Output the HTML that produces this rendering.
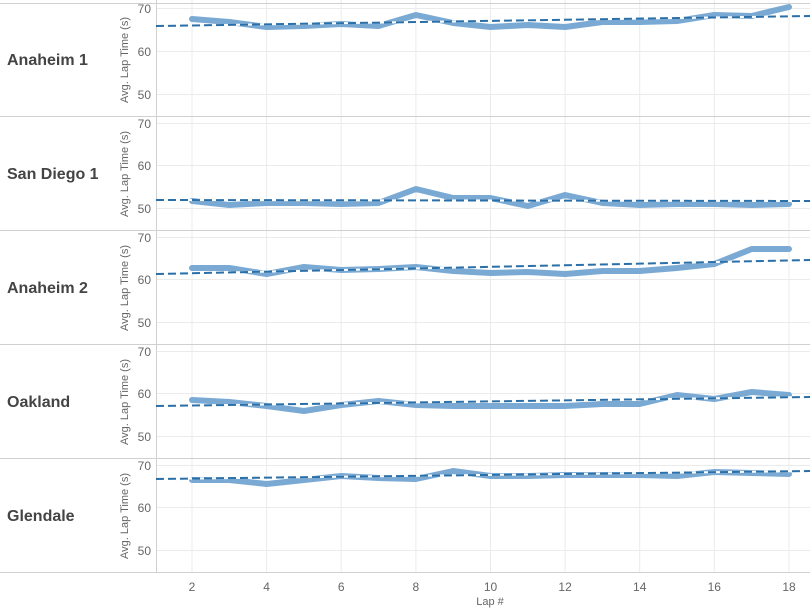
<!DOCTYPE html>
<html><head><meta charset="utf-8"><style>
html,body{margin:0;padding:0;background:#fff;}
svg{display:block;font-family:"Liberation Sans",Arial,sans-serif;}
</style></head><body>
<svg width="810" height="612" viewBox="0 0 810 612" xmlns="http://www.w3.org/2000/svg">
<g stroke="#ebebeb" stroke-width="1">
<line x1="192" y1="0" x2="192" y2="573"/><line x1="266.6" y1="0" x2="266.6" y2="573"/><line x1="341.2" y1="0" x2="341.2" y2="573"/><line x1="415.9" y1="0" x2="415.9" y2="573"/><line x1="490.5" y1="0" x2="490.5" y2="573"/><line x1="565.1" y1="0" x2="565.1" y2="573"/><line x1="639.7" y1="0" x2="639.7" y2="573"/><line x1="714.3" y1="0" x2="714.3" y2="573"/><line x1="789" y1="0" x2="789" y2="573"/>
<line x1="156" y1="8.5" x2="810" y2="8.5"/><line x1="156" y1="51.5" x2="810" y2="51.5"/><line x1="156" y1="94.5" x2="810" y2="94.5"/>
<line x1="156" y1="123.5" x2="810" y2="123.5"/><line x1="156" y1="165.5" x2="810" y2="165.5"/><line x1="156" y1="208.5" x2="810" y2="208.5"/>
<line x1="156" y1="237.5" x2="810" y2="237.5"/><line x1="156" y1="279.5" x2="810" y2="279.5"/><line x1="156" y1="322.5" x2="810" y2="322.5"/>
<line x1="156" y1="351.5" x2="810" y2="351.5"/><line x1="156" y1="393.5" x2="810" y2="393.5"/><line x1="156" y1="436.5" x2="810" y2="436.5"/>
<line x1="156" y1="465.5" x2="810" y2="465.5"/><line x1="156" y1="507.5" x2="810" y2="507.5"/><line x1="156" y1="550.5" x2="810" y2="550.5"/>
</g>
<g stroke="#d0d0d0" stroke-width="1">
<line x1="0" y1="3.5" x2="810" y2="3.5"/>
<line x1="0" y1="116.5" x2="810" y2="116.5"/>
<line x1="0" y1="230.5" x2="810" y2="230.5"/>
<line x1="0" y1="344.5" x2="810" y2="344.5"/>
<line x1="0" y1="458.5" x2="810" y2="458.5"/>
<line x1="0" y1="572.5" x2="810" y2="572.5"/>
<line x1="156.5" y1="0" x2="156.5" y2="573"/>
</g>
<g fill="none" stroke="#7aaad4" stroke-width="6" stroke-linejoin="round" stroke-linecap="round">
<polyline points="192,19 229.3,22 266.6,27 304,26 341.2,24 378.6,26 415.9,15 453.2,23 490.5,27 527.8,25 565.1,27 602.4,22 639.7,22 677,21 714.3,15 751.7,16 789,7"/>
<polyline points="192,201 229.3,205 266.6,203 304,203 341.2,204 378.6,203 415.9,189 453.2,198 490.5,198 527.8,206 565.1,195 602.4,203 639.7,205 677,204 714.3,204 751.7,205 789,204"/>
<polyline points="192,268 229.3,268 266.6,274 304,267 341.2,270 378.6,269 415.9,267 453.2,271 490.5,273 527.8,272 565.1,274 602.4,271 639.7,271 677,268 714.3,264 751.7,249 789,249"/>
<polyline points="192,400 229.3,402 266.6,406 304,411 341.2,405 378.6,401 415.9,405 453.2,406 490.5,406 527.8,406 565.1,406 602.4,404 639.7,404 677,395 714.3,399 751.7,392 789,395"/>
<polyline points="192,480 229.3,480 266.6,484 304,480 341.2,476 378.6,478 415.9,479 453.2,471 490.5,476 527.8,476 565.1,475 602.4,475 639.7,475 677,476 714.3,472 751.7,473 789,474"/>
</g>
<g stroke="#fff" stroke-width="2">
<line x1="156" y1="26" x2="810" y2="16"/>
<line x1="156" y1="200" x2="810" y2="201"/>
<line x1="156" y1="274" x2="810" y2="260"/>
<line x1="156" y1="406" x2="810" y2="397"/>
<line x1="156" y1="479" x2="810" y2="471"/>
</g>
<g stroke="#2a6fa8" stroke-width="2" stroke-dasharray="8,4">
<line x1="156" y1="26" x2="810" y2="16"/>
<line x1="156" y1="200" x2="810" y2="201"/>
<line x1="156" y1="274" x2="810" y2="260"/>
<line x1="156" y1="406" x2="810" y2="397"/>
<line x1="156" y1="479" x2="810" y2="471"/>
</g>
<g font-size="16" font-weight="bold" fill="#444">
<text x="7" y="65">Anaheim 1</text>
<text x="7" y="179">San Diego 1</text>
<text x="7" y="293">Anaheim 2</text>
<text x="7" y="407">Oakland</text>
<text x="7" y="521">Glendale</text>
</g>
<g font-size="12" fill="#666" text-anchor="end">
<text x="151" y="13">70</text><text x="151" y="56">60</text><text x="151" y="99">50</text>
<text x="151" y="128">70</text><text x="151" y="170">60</text><text x="151" y="213">50</text>
<text x="151" y="242">70</text><text x="151" y="284">60</text><text x="151" y="327">50</text>
<text x="151" y="356">70</text><text x="151" y="398">60</text><text x="151" y="441">50</text>
<text x="151" y="470">70</text><text x="151" y="512">60</text><text x="151" y="555">50</text>
</g>
<g font-size="11" fill="#666" text-anchor="middle">
<text transform="translate(128,60) rotate(-90)">Avg. Lap Time (s)</text>
<text transform="translate(128,174) rotate(-90)">Avg. Lap Time (s)</text>
<text transform="translate(128,288) rotate(-90)">Avg. Lap Time (s)</text>
<text transform="translate(128,402) rotate(-90)">Avg. Lap Time (s)</text>
<text transform="translate(128,516) rotate(-90)">Avg. Lap Time (s)</text>
</g>
<g font-size="12" fill="#666" text-anchor="middle">
<text x="192" y="591">2</text><text x="266.6" y="591">4</text><text x="341.2" y="591">6</text><text x="415.9" y="591">8</text><text x="490.5" y="591">10</text><text x="565.1" y="591">12</text><text x="639.7" y="591">14</text><text x="714.3" y="591">16</text><text x="789" y="591">18</text>
<text x="490" y="605" font-size="11">Lap #</text>
</g>
</svg>
</body></html>
